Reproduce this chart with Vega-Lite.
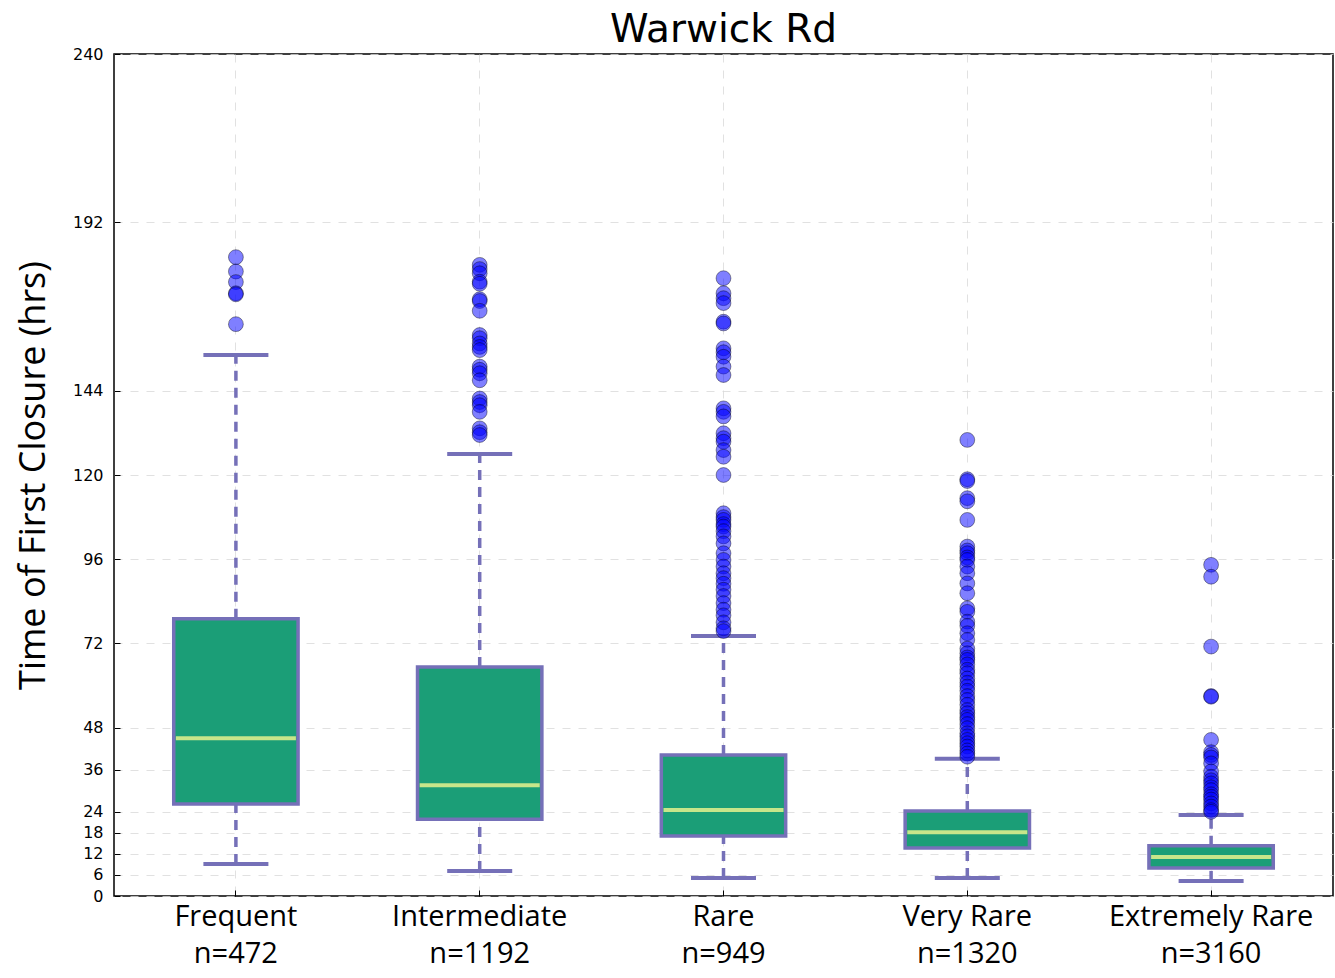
{
  "$schema": "https://vega.github.io/schema/vega-lite/v6.json",
  "width": 1219,
  "height": 842,
  "autosize": {"type": "none"},
  "padding": {"left": 114, "top": 54, "right": 2, "bottom": 82},
  "background": "white",
  "title": {"text": "Warwick Rd", "fontSize": 39, "font": "DejaVu Sans", "fontWeight": "normal", "color": "black", "offset": -4, "anchor": "middle"},
  "config": {
    "view": {"stroke": "black", "strokeWidth": 1.5},
    "axis": {"domain": false, "gridColor": "#d9d9d9", "gridDash": [8, 8], "gridWidth": 1, "gridOpacity": 0.8}
  },
  "datasets": {
    "stats": [
      {"cat": "Frequent|n=472", "q1": 26.2, "q3": 79.0, "med": 45.0, "lo": 9.1, "hi": 154.2},
      {"cat": "Intermediate|n=1192", "q1": 21.9, "q3": 65.3, "med": 31.6, "lo": 7.1, "hi": 126.0},
      {"cat": "Rare|n=949", "q1": 17.1, "q3": 40.2, "med": 24.5, "lo": 5.1, "hi": 74.1},
      {"cat": "Very Rare|n=1320", "q1": 13.7, "q3": 24.2, "med": 18.2, "lo": 5.1, "hi": 39.1},
      {"cat": "Extremely Rare|n=3160", "q1": 8.0, "q3": 14.3, "med": 11.1, "lo": 4.3, "hi": 23.1}
    ],
    "outliers": [
      {"cat": "Frequent|n=472", "v": 182.1}, {"cat": "Frequent|n=472", "v": 178.0}, {"cat": "Frequent|n=472", "v": 175.0}, {"cat": "Frequent|n=472", "v": 171.8}, {"cat": "Frequent|n=472", "v": 171.5}, {"cat": "Frequent|n=472", "v": 163.0},
      {"cat": "Intermediate|n=1192", "v": 179.9}, {"cat": "Intermediate|n=1192", "v": 178.7}, {"cat": "Intermediate|n=1192", "v": 177.5}, {"cat": "Intermediate|n=1192", "v": 175.1}, {"cat": "Intermediate|n=1192", "v": 174.5}, {"cat": "Intermediate|n=1192", "v": 170.1}, {"cat": "Intermediate|n=1192", "v": 169.6}, {"cat": "Intermediate|n=1192", "v": 166.8}, {"cat": "Intermediate|n=1192", "v": 159.9}, {"cat": "Intermediate|n=1192", "v": 159.0}, {"cat": "Intermediate|n=1192", "v": 157.5}, {"cat": "Intermediate|n=1192", "v": 156.5}, {"cat": "Intermediate|n=1192", "v": 155.6}, {"cat": "Intermediate|n=1192", "v": 150.9}, {"cat": "Intermediate|n=1192", "v": 150.0}, {"cat": "Intermediate|n=1192", "v": 149.0}, {"cat": "Intermediate|n=1192", "v": 147.0}, {"cat": "Intermediate|n=1192", "v": 141.8}, {"cat": "Intermediate|n=1192", "v": 140.8}, {"cat": "Intermediate|n=1192", "v": 139.9}, {"cat": "Intermediate|n=1192", "v": 138.0}, {"cat": "Intermediate|n=1192", "v": 133.3}, {"cat": "Intermediate|n=1192", "v": 132.2}, {"cat": "Intermediate|n=1192", "v": 131.4},
      {"cat": "Rare|n=949", "v": 176.1}, {"cat": "Rare|n=949", "v": 171.8}, {"cat": "Rare|n=949", "v": 170.4}, {"cat": "Rare|n=949", "v": 169.0}, {"cat": "Rare|n=949", "v": 163.7}, {"cat": "Rare|n=949", "v": 163.2}, {"cat": "Rare|n=949", "v": 156.1}, {"cat": "Rare|n=949", "v": 155.0}, {"cat": "Rare|n=949", "v": 153.7}, {"cat": "Rare|n=949", "v": 150.9}, {"cat": "Rare|n=949", "v": 148.5}, {"cat": "Rare|n=949", "v": 139.0}, {"cat": "Rare|n=949", "v": 138.0}, {"cat": "Rare|n=949", "v": 136.7}, {"cat": "Rare|n=949", "v": 131.9}, {"cat": "Rare|n=949", "v": 130.5}, {"cat": "Rare|n=949", "v": 129.5}, {"cat": "Rare|n=949", "v": 127.1}, {"cat": "Rare|n=949", "v": 125.2}, {"cat": "Rare|n=949", "v": 120.0}, {"cat": "Rare|n=949", "v": 109.1}, {"cat": "Rare|n=949", "v": 108.0}, {"cat": "Rare|n=949", "v": 107.2}, {"cat": "Rare|n=949", "v": 106.0}, {"cat": "Rare|n=949", "v": 105.3}, {"cat": "Rare|n=949", "v": 104.0}, {"cat": "Rare|n=949", "v": 102.5}, {"cat": "Rare|n=949", "v": 100.5}, {"cat": "Rare|n=949", "v": 97.7}, {"cat": "Rare|n=949", "v": 95.8}, {"cat": "Rare|n=949", "v": 93.9}, {"cat": "Rare|n=949", "v": 92.0}, {"cat": "Rare|n=949", "v": 90.6}, {"cat": "Rare|n=949", "v": 89.0}, {"cat": "Rare|n=949", "v": 87.3}, {"cat": "Rare|n=949", "v": 85.5}, {"cat": "Rare|n=949", "v": 83.5}, {"cat": "Rare|n=949", "v": 81.6}, {"cat": "Rare|n=949", "v": 80.0}, {"cat": "Rare|n=949", "v": 78.0}, {"cat": "Rare|n=949", "v": 76.3}, {"cat": "Rare|n=949", "v": 75.5},
      {"cat": "Very Rare|n=1320", "v": 130.0}, {"cat": "Very Rare|n=1320", "v": 118.8}, {"cat": "Very Rare|n=1320", "v": 118.3}, {"cat": "Very Rare|n=1320", "v": 113.4}, {"cat": "Very Rare|n=1320", "v": 112.5}, {"cat": "Very Rare|n=1320", "v": 107.2}, {"cat": "Very Rare|n=1320", "v": 99.6}, {"cat": "Very Rare|n=1320", "v": 98.5}, {"cat": "Very Rare|n=1320", "v": 97.7}, {"cat": "Very Rare|n=1320", "v": 96.5}, {"cat": "Very Rare|n=1320", "v": 95.8}, {"cat": "Very Rare|n=1320", "v": 93.9}, {"cat": "Very Rare|n=1320", "v": 92.0}, {"cat": "Very Rare|n=1320", "v": 89.1}, {"cat": "Very Rare|n=1320", "v": 86.3}, {"cat": "Very Rare|n=1320", "v": 82.0}, {"cat": "Very Rare|n=1320", "v": 81.0}, {"cat": "Very Rare|n=1320", "v": 78.2}, {"cat": "Very Rare|n=1320", "v": 77.0}, {"cat": "Very Rare|n=1320", "v": 74.9}, {"cat": "Very Rare|n=1320", "v": 73.0}, {"cat": "Very Rare|n=1320", "v": 70.5}, {"cat": "Very Rare|n=1320", "v": 69.2}, {"cat": "Very Rare|n=1320", "v": 68.0}, {"cat": "Very Rare|n=1320", "v": 67.3}, {"cat": "Very Rare|n=1320", "v": 66.0}, {"cat": "Very Rare|n=1320", "v": 64.5}, {"cat": "Very Rare|n=1320", "v": 63.5}, {"cat": "Very Rare|n=1320", "v": 62.0}, {"cat": "Very Rare|n=1320", "v": 60.8}, {"cat": "Very Rare|n=1320", "v": 59.7}, {"cat": "Very Rare|n=1320", "v": 58.5}, {"cat": "Very Rare|n=1320", "v": 57.0}, {"cat": "Very Rare|n=1320", "v": 55.9}, {"cat": "Very Rare|n=1320", "v": 54.5}, {"cat": "Very Rare|n=1320", "v": 53.0}, {"cat": "Very Rare|n=1320", "v": 52.1}, {"cat": "Very Rare|n=1320", "v": 51.0}, {"cat": "Very Rare|n=1320", "v": 50.2}, {"cat": "Very Rare|n=1320", "v": 49.0}, {"cat": "Very Rare|n=1320", "v": 47.8}, {"cat": "Very Rare|n=1320", "v": 46.4}, {"cat": "Very Rare|n=1320", "v": 45.5}, {"cat": "Very Rare|n=1320", "v": 44.5}, {"cat": "Very Rare|n=1320", "v": 43.5}, {"cat": "Very Rare|n=1320", "v": 42.6}, {"cat": "Very Rare|n=1320", "v": 41.5}, {"cat": "Very Rare|n=1320", "v": 40.6}, {"cat": "Very Rare|n=1320", "v": 39.7},
      {"cat": "Extremely Rare|n=3160", "v": 94.4}, {"cat": "Extremely Rare|n=3160", "v": 91.0}, {"cat": "Extremely Rare|n=3160", "v": 71.1}, {"cat": "Extremely Rare|n=3160", "v": 57.0}, {"cat": "Extremely Rare|n=3160", "v": 56.8}, {"cat": "Extremely Rare|n=3160", "v": 44.5}, {"cat": "Extremely Rare|n=3160", "v": 41.0}, {"cat": "Extremely Rare|n=3160", "v": 40.2}, {"cat": "Extremely Rare|n=3160", "v": 39.5}, {"cat": "Extremely Rare|n=3160", "v": 37.8}, {"cat": "Extremely Rare|n=3160", "v": 35.5}, {"cat": "Extremely Rare|n=3160", "v": 34.0}, {"cat": "Extremely Rare|n=3160", "v": 33.0}, {"cat": "Extremely Rare|n=3160", "v": 32.1}, {"cat": "Extremely Rare|n=3160", "v": 31.0}, {"cat": "Extremely Rare|n=3160", "v": 30.2}, {"cat": "Extremely Rare|n=3160", "v": 29.0}, {"cat": "Extremely Rare|n=3160", "v": 28.3}, {"cat": "Extremely Rare|n=3160", "v": 27.5}, {"cat": "Extremely Rare|n=3160", "v": 26.4}, {"cat": "Extremely Rare|n=3160", "v": 25.5}, {"cat": "Extremely Rare|n=3160", "v": 24.5}, {"cat": "Extremely Rare|n=3160", "v": 24.0}
    ]
  },
  "encoding": {
    "x": {
      "field": "cat", "type": "nominal",
      "sort": ["Frequent|n=472", "Intermediate|n=1192", "Rare|n=949", "Very Rare|n=1320", "Extremely Rare|n=3160"],
      "scale": {"paddingInner": 0, "paddingOuter": 0},
      "axis": {
        "title": null, "labelAngle": 0, "labelExpr": "split(datum.value, '|')",
        "labelFont": "Open Sans", "labelFontSize": 29, "labelColor": "black", "labelLineHeight": 37, "labelLimit": 0,
        "labelPadding": 12, "bandPosition": 0.5, "grid": true, "ticks": true, "tickSize": -6, "tickColor": "black"
      }
    }
  },
  "layer": [
    {
      "data": {"name": "stats"},
      "mark": {"type": "rule", "stroke": "#7570b8", "strokeWidth": 3.5, "strokeDash": [10, 7]},
      "encoding": {
        "y": {"field": "lo", "type": "quantitative", "scale": {"domain": [0, 240], "nice": false, "zero": true},
          "axis": {"title": "Time of First Closure (hrs)", "titleFont": "Open Sans", "titleFontSize": 36, "titleFontWeight": "normal", "titleColor": "black", "titlePadding": 20,
            "values": [0, 6, 12, 18, 24, 36, 48, 72, 96, 120, 144, 192, 240], "labelFont": "DejaVu Sans", "labelFontSize": 16, "labelColor": "black", "labelPadding": 17,
            "grid": true, "ticks": true, "tickSize": -6, "tickColor": "black"}},
        "y2": {"field": "q1"}
      }
    },
    {
      "data": {"name": "stats"},
      "mark": {"type": "rule", "stroke": "#7570b8", "strokeWidth": 3.5, "strokeDash": [10, 7]},
      "encoding": {"y": {"field": "q3", "type": "quantitative"}, "y2": {"field": "hi"}}
    },
    {
      "data": {"name": "stats"},
      "mark": {"type": "tick", "color": "#7570b8", "size": 65, "thickness": 4, "opacity": 1},
      "encoding": {"y": {"field": "lo", "type": "quantitative"}}
    },
    {
      "data": {"name": "stats"},
      "mark": {"type": "tick", "color": "#7570b8", "size": 65, "thickness": 4, "opacity": 1},
      "encoding": {"y": {"field": "hi", "type": "quantitative"}}
    },
    {
      "data": {"name": "stats"},
      "mark": {"type": "bar", "fill": "#1b9e77", "stroke": "#7570b8", "strokeWidth": 3.5, "width": {"band": 0.51}},
      "encoding": {"y": {"field": "q1", "type": "quantitative"}, "y2": {"field": "q3"}}
    },
    {
      "data": {"name": "stats"},
      "mark": {"type": "tick", "color": "#c7e68a", "size": 120, "thickness": 4, "opacity": 1},
      "encoding": {"y": {"field": "med", "type": "quantitative"}}
    },
    {
      "data": {"name": "outliers"},
      "mark": {"type": "point", "shape": "circle", "filled": true, "fill": "#0000ff", "fillOpacity": 0.5, "stroke": "black", "strokeOpacity": 0.4, "strokeWidth": 1, "size": 220},
      "encoding": {"y": {"field": "v", "type": "quantitative"}}
    }
  ]
}
